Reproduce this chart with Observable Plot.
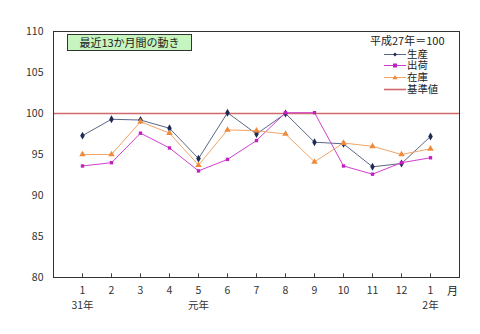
<!DOCTYPE html>
<html><head><meta charset="utf-8">
<script src="https://cdn.jsdelivr.net/npm/d3@7"></script>
<script src="https://cdn.jsdelivr.net/npm/@observablehq/plot@0.6"></script>
<style>
body{margin:0;background:#fff;font-family:"Noto Sans CJK JP","DejaVu Sans",sans-serif;}
#wrap{position:relative;width:480px;height:334px;}
.ov{position:absolute;color:#222;font-size:11px;line-height:1;white-space:nowrap;}
#title{left:67px;top:34px;width:123px;height:15px;border:1px solid #333;background:#c6f5c0;text-align:center;line-height:15px;font-size:11px;}
.lg{position:absolute;left:384px;font-family:"Liberation Sans","Noto Sans CJK JP",sans-serif;font-size:10.4px;height:11px;line-height:11px;color:#222;white-space:nowrap;overflow:visible;}
</style></head><body>
<div id="wrap"></div>
<script>
const months = ["1","2","3","4","5","6","7","8","9","10","11","12","1"];
const seisan = [97.3,99.3,99.2,98.2,94.5,100.1,97.5,100.0,96.5,96.3,93.5,93.9,97.2];
const shukka = [93.6,94.0,97.6,95.8,93.0,94.4,96.7,100.1,100.1,93.6,92.6,94.0,94.6];
const zaiko  = [95.0,95.0,99.0,97.6,93.7,98.0,97.9,97.5,94.1,96.4,96.0,95.0,95.7];
const baseValue = 100;
const yearLabels = [{i:1,t:"31年"},{i:5,t:"元年"},{i:13,t:"2年"}];
const yTicks = [80,85,90,95,100,105,110];

const series = [
  {name:"生産", values:seisan, line:"#5b6784", dot:"#1f2a55", symbol:"diamond", r:2.4},
  {name:"出荷", values:shukka, line:"#d040d0", dot:"#c020c0", symbol:"square", r:1.9},
  {name:"在庫", values:zaiko,  line:"#f0a468", dot:"#ee8a3a", symbol:"triangle", r:2.4}
];
const rows = series.flatMap(s => s.values.map((v,k)=>({i:k+1, v, name:s.name})));
const idx = months.map((m,k)=>k+1);

const marks = [
  Plot.ruleY([baseValue], {stroke:"#d06a6a", strokeWidth:1.6}),
  Plot.ruleX(idx, {x:d=>d, y1:80, y2:80.45, stroke:"#444"}),
];
for (const s of series) {
  const d = rows.filter(r=>r.name===s.name);
  marks.push(Plot.line(d, {x:"i", y:"v", stroke:s.line, strokeWidth:1}));
  marks.push(Plot.dot(d, {x:"i", y:"v", symbol:s.symbol, r:s.r, fill:s.dot, stroke:"none"}));
}
marks.push(
  Plot.frame({stroke:"#333", strokeWidth:1}),
  Plot.axisX(idx, {tickSize:0, tickPadding:9, tickFormat:d=>months[d-1], fontSize:10.5, fill:"#333", label:null}),
  Plot.axisY(yTicks, {tickSize:0, tickPadding:10, fontSize:10.5, fill:"#333", label:null}),
  Plot.text(yearLabels, {x:"i", y:80, text:"t", dy:28, fontSize:10.5, fill:"#333"})
);

const chart = Plot.plot({
  width:480, height:334,
  marginLeft:53, marginRight:21, marginTop:31, marginBottom:57,
  style:{fontFamily:'"Noto Sans CJK JP","DejaVu Sans",sans-serif', background:"#fff"},
  x:{domain:[0,14], label:null},
  y:{domain:[80,110], label:null},
  marks
});
const wrap = document.getElementById("wrap");
wrap.appendChild(chart);

const t = document.createElement("div");
t.className="ov"; t.id="title"; t.textContent="最近13か月間の動き";
wrap.appendChild(t);

const unit = document.createElement("div");
unit.className="ov"; unit.style.left="370px"; unit.style.top="35px"; unit.textContent="平成27年＝100";
wrap.appendChild(unit);

const legendItems = [...series, {name:"基準値", line:"#d06a6a", dot:null, width:1.6}];
legendItems.forEach((s,k)=>{
  const el = document.createElement("div");
  el.className="lg";
  const sym = s.dot ? (s.symbol==="diamond" ? `<path d="M11 3.5 L13 5.5 L11 7.5 L9 5.5Z" fill="${s.dot}"/>` :
    s.symbol==="square" ? `<rect x="9" y="3.5" width="4" height="4" fill="${s.dot}"/>` :
    `<path d="M11 3 L13.5 7.3 L8.5 7.3Z" fill="${s.dot}"/>`) : "";
  el.innerHTML = `<svg width="23" height="11" style="vertical-align:top"><line x1="0" x2="22" y1="5.5" y2="5.5" stroke="${s.line}" stroke-width="${s.width||1}"/>${sym}</svg><span>${s.name}</span>`;
  el.style.top=(48.5+k*11.8)+"px";
  wrap.appendChild(el);
});

const mo = document.createElement("div");
mo.className="ov"; mo.style.left="447px"; mo.style.top="285px"; mo.style.fontSize="11px"; mo.textContent="月";
wrap.appendChild(mo);
</script>
</body></html>
